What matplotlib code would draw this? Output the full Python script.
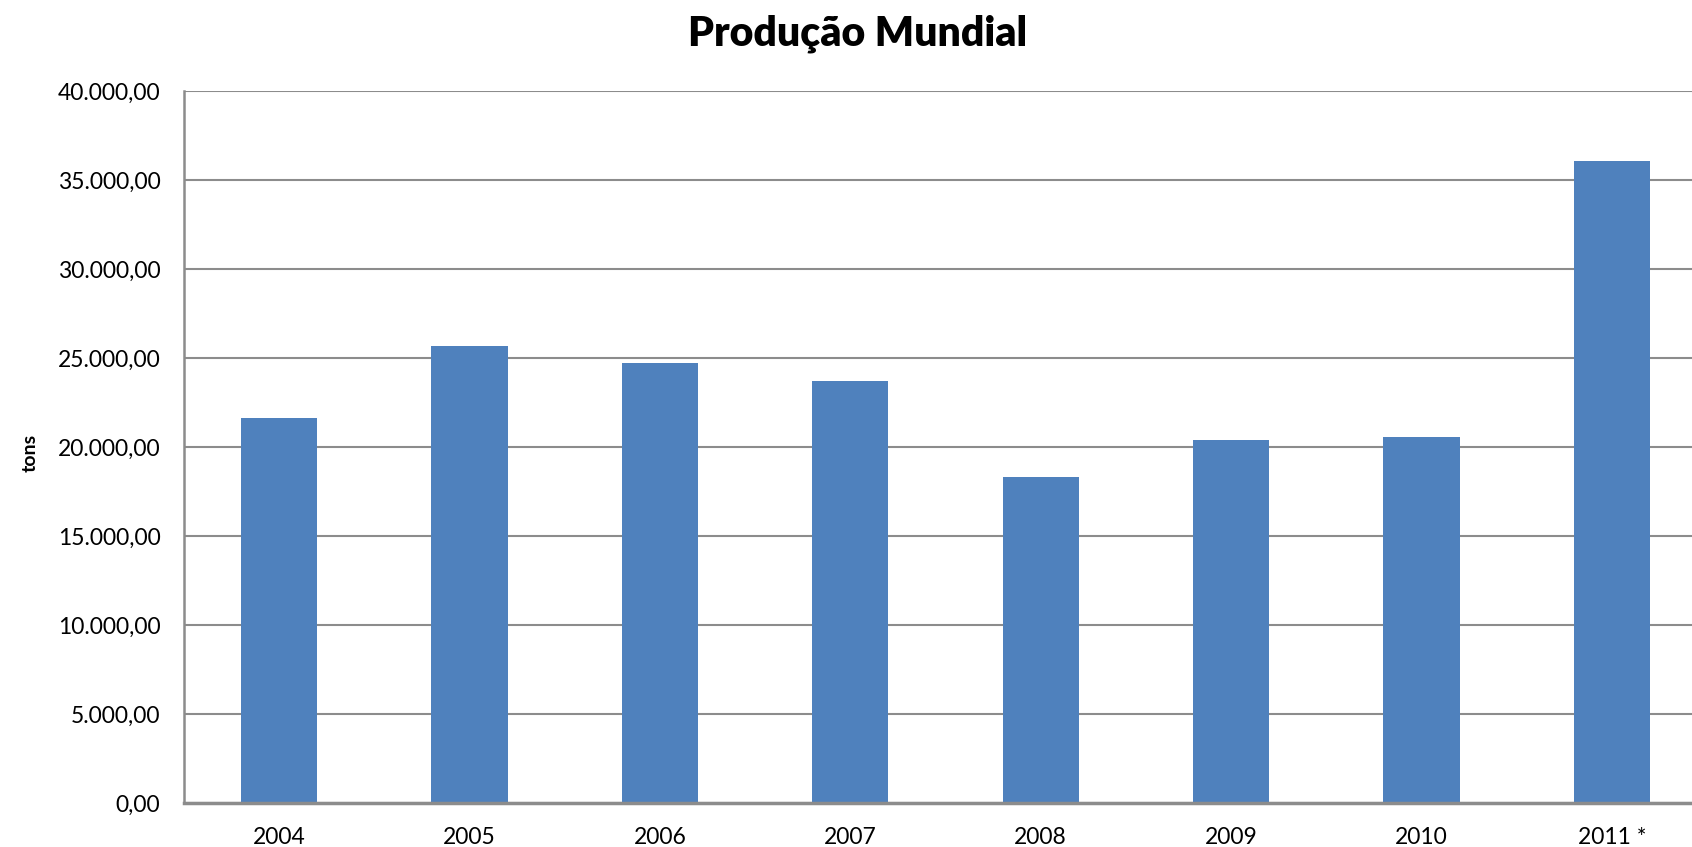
import matplotlib
matplotlib.use('Agg')
import matplotlib.pyplot as plt
from matplotlib.ticker import FuncFormatter

# data
years = ['2004', '2005', '2006', '2007', '2008', '2009', '2010', '2011 *']
production = [21650, 25660, 24700, 23710, 18300, 20380, 20540, 36080]

y_ticks = [0, 5000, 10000, 15000, 20000, 25000, 30000, 35000, 40000]


def br_format(v, pos=None):
    s = f"{v:,.2f}"
    return s.replace(',', 'X').replace('.', ',').replace('X', '.')


plt.rcParams['font.family'] = ['Lato', 'DejaVu Sans']

W, H = 1692, 847
fig = plt.figure(figsize=(W / 100, H / 100), dpi=100)
# plot area runs slightly past the right edge, as in the reference
ax = fig.add_axes([184 / W, 1 - 803 / H, (1707 - 184) / W, (803 - 91) / H])

x = range(len(years))
ax.bar(x, production, width=0.4, color='#4F81BD', zorder=3)

ax.set_xlim(-0.5, len(years) - 0.5)
ax.set_ylim(0, 40000)
ax.set_yticks(y_ticks)
ax.yaxis.set_major_formatter(FuncFormatter(br_format))
ax.set_xticks(list(x))
ax.set_xticklabels(years)

ax.grid(axis='y', color='#8C8C8C', linewidth=1.5, zorder=0)
ax.tick_params(axis='both', length=0, labelsize=16.5, colors='black')
ax.tick_params(axis='y', pad=17)
ax.tick_params(axis='x', pad=17)

for side in ['top', 'right']:
    ax.spines[side].set_visible(False)
ax.spines['left'].set_color('#8C8C8C')
ax.spines['left'].set_linewidth(1.8)
ax.spines['bottom'].set_color('#8C8C8C')
ax.spines['bottom'].set_linewidth(2.5)
ax.spines['bottom'].set_zorder(4)

fig.text(30 / W, 1 - 453 / H, 'tons', rotation=90, fontsize=14,
         fontweight='bold', ha='center', va='center')
fig.text(858 / W, 1 - 34 / H, 'Produção Mundial', fontsize=29.5,
         fontweight='heavy', ha='center', va='center')

plt.savefig('out.png', dpi=100)
plt.close()
